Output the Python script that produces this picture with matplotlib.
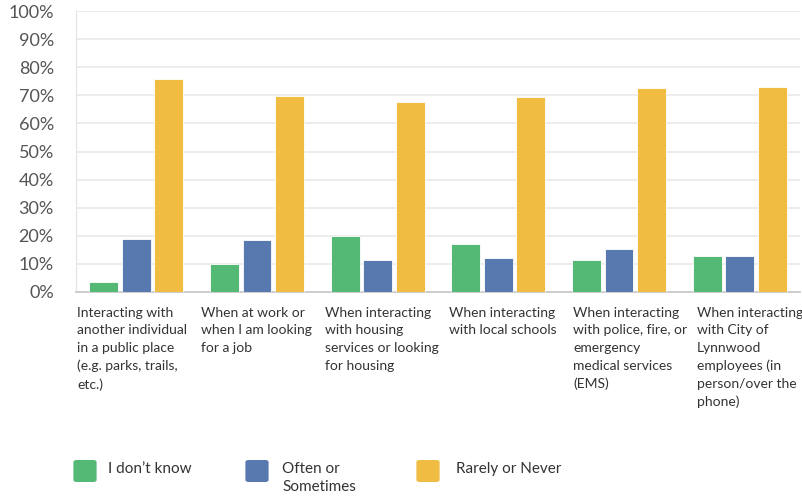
import numpy as np
import matplotlib
matplotlib.use('Agg')
import matplotlib.pyplot as plt
from matplotlib.patches import FancyBboxPatch

###############################################################################
# Data
###############################################################################
categories = [
    'Interacting with\nanother individual\nin a public place\n(e.g. parks, trails,\netc.)',
    'When at work or\nwhen I am looking\nfor a job',
    'When interacting\nwith housing\nservices or looking\nfor housing',
    'When interacting\nwith local schools',
    'When interacting\nwith police, fire, or\nemergency\nmedical services\n(EMS)',
    'When interacting\nwith City of\nLynnwood\nemployees (in\nperson/over the\nphone)',
]
series = ["I don\u2019t know", 'Often or\nSometimes', 'Rarely or Never']
dontKnow = [3.7, 10.0, 20.0, 17.0, 11.3, 12.7]
often = [19.0, 18.6, 11.3, 12.2, 15.3, 12.7]
rarely = [75.7, 69.9, 67.5, 69.4, 72.5, 73.1]
yTicks = [0, 10, 20, 30, 40, 50, 60, 70, 80, 90, 100]
###############################################################################
# Style
###############################################################################
colors = ['#53b975', '#5879b0', '#f0bc42']
txtColor = '#333333'
tickColor = '#555555'
FONT = 'Lato'
plt.rcParams['font.family'] = [FONT, 'DejaVu Sans']
W, H = 803, 496
###############################################################################
# Plot
###############################################################################
fig = plt.figure(figsize=(W/100, H/100), dpi=100)
ax = fig.add_axes([76/W, 1-292/H, 724/W, 281/H])

x = np.arange(len(categories))
for (vals, col, off) in zip([dontKnow, often, rarely], colors, [-0.27, 0, 0.27]):
    ax.bar(x+off, vals, width=0.24, color=col, edgecolor='white',
           linewidth=0.6, zorder=3)

ax.set_xlim(-0.5, len(categories)-0.5)
ax.set_ylim(0, 100)
ax.set_yticks(yTicks)
ax.set_yticklabels(['{}%'.format(t) for t in yTicks])
ax.set_xticks([])
ax.tick_params(axis='y', length=0, pad=16, labelsize=13, labelcolor=tickColor)
ax.grid(axis='y', color='#e9e9e9', linewidth=1.2, zorder=0)
for s in ['top', 'right']:
    ax.spines[s].set_visible(False)
ax.spines['left'].set_color('#e2e2e2')
ax.spines['bottom'].set_color('#c9c9c9')
ax.spines['bottom'].set_linewidth(1.3)

# category labels, left aligned below each group
for (i, lab) in enumerate(categories):
    fig.text((77+124*i)/W, 1-307/H, lab, ha='left', va='top',
             fontsize=10.0, color=txtColor, linespacing=1.55)

# legend
legX = [(73, 108), (245, 282), (416, 456)]
for ((sx, tx), col, lab) in zip(legX, colors, series):
    fig.patches.append(FancyBboxPatch(
        ((sx+2)/W, 1-481/H), 20/W, 20/H,
        boxstyle='round,pad=0.002,rounding_size=0.004',
        transform=fig.transFigure, facecolor=col, edgecolor='none'
    ))
    fig.text(tx/W, 1-462/H, lab, ha='left', va='top',
             fontsize=11, color=txtColor, linespacing=1.35)
###############################################################################
# Export
###############################################################################
fig.savefig('out.png', dpi=100, facecolor='white')
plt.close('all')
